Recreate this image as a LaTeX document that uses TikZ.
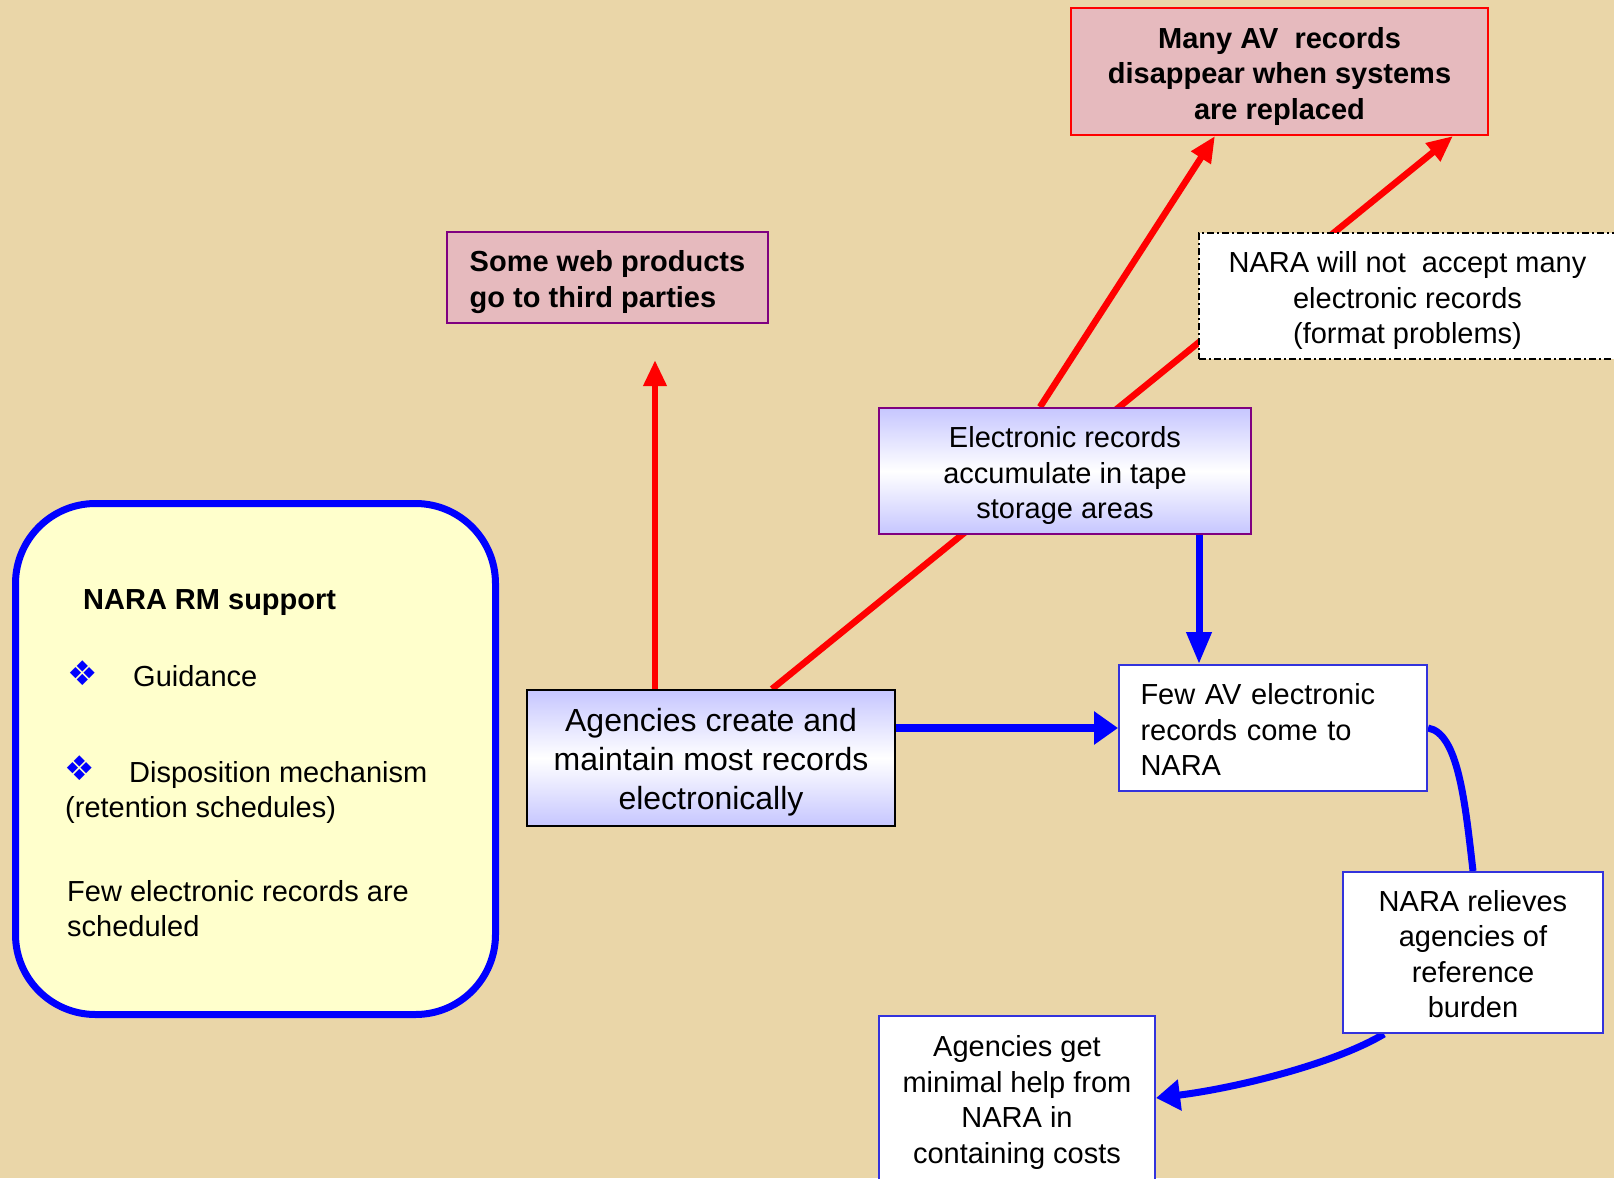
\documentclass[tikz,border=0pt]{standalone}
\usepackage{fontspec}
\setmainfont{Liberation Sans}
\newfontfamily\symfont{DejaVu Sans}
\usetikzlibrary{arrows.meta}
\definecolor{bgtan}{RGB}{234,214,168}
\definecolor{pinkfill}{RGB}{230,186,190}
\definecolor{lav}{RGB}{198,198,255}
\definecolor{boxblue}{RGB}{51,51,220}
\definecolor{purp}{RGB}{128,0,128}
\definecolor{paleyellow}{RGB}{255,255,204}
\definecolor{arrred}{RGB}{255,0,0}
\definecolor{arrblue}{RGB}{0,0,255}
\pgfdeclarelayer{back}
\pgfdeclarelayer{lines}
\pgfsetlayers{back,lines,main}
\begin{document}
\begin{tikzpicture}[x=1pt,y=-1pt,
  txt/.style={font=\fontsize{29}{35.5}\selectfont, align=center, inner sep=0pt, text depth=7.7pt},
  twol/.style={text height=67.3pt},
  threel/.style={text height=102.8pt},
  fourl/.style={text height=138.3pt},
  redbox/.style={txt, draw=arrred, line width=2pt, fill=pinkfill},
  lavbox/.style={txt, line width=2pt, top color=lav, bottom color=lav, middle color=white},
  whitebox/.style={txt, draw=boxblue, line width=2pt, fill=white},
  redarrow/.style={draw=arrred, line width=6.5pt, -{Triangle[length=26pt,width=22pt]}},
  bluearrow/.style={draw=arrblue, line width=8pt, -{Triangle[length=24pt,width=32pt]}},
  bluecurve/.style={draw=arrblue, line width=7pt},
  lbtext/.style={font=\fontsize{29}{35}\selectfont, anchor=base west, inner sep=0pt},
  bullet/.style={font=\symfont\fontsize{34}{38}\selectfont, text=arrblue, inner sep=0pt}
]
\useasboundingbox (0,0) rectangle (1614,1178);

% boxes
\node[redbox, threel, minimum width=417, minimum height=127] (mav) at (1279.5,71.5)
  {\bfseries Many AV\ \ records\\\bfseries disappear when systems\\\bfseries are replaced};
\node[redbox, twol, draw=purp, align=left, minimum width=321, minimum height=91] (web) at (607.5,277.5)
  {\bfseries Some web products\\\bfseries go to third parties};
\node[txt, threel, draw=black, fill=white, line width=1.5pt, dash pattern=on 7pt off 3pt on 2pt off 3pt,
  minimum width=417, minimum height=126] (nwn) at (1407.5,296)
  {NARA will not\ \ accept many\\electronic records\\(format problems)};
\node[lavbox, threel, draw=purp, minimum width=372, minimum height=126] (el) at (1065,471)
  {Electronic records\\accumulate in tape\\storage areas};
\node[lavbox, draw=black, font=\fontsize{32}{39}\selectfont, text height=111pt, text depth=8.4pt,
  minimum width=368, minimum height=136] (ag) at (711,758)
  {Agencies create and\\maintain most records\\electronically};
\node[whitebox, align=left, text width=265pt, inner xsep=21.5pt, text height=31.8pt, text depth=78.7pt,
  minimum height=126] (fa) at (1273,728)
  {Few AV electronic\\records come to\\NARA};
\node[whitebox, fourl, minimum width=260, minimum height=161] (nr) at (1473,952.5)
  {NARA relieves\\agencies of\\reference\\burden};
\node[whitebox, fourl, minimum width=276, minimum height=164] (agg) at (1017,1098)
  {Agencies get\\minimal help from\\NARA in\\containing costs};

% left panel
\node[draw=arrblue, line width=7pt, fill=paleyellow, rounded corners=80pt,
  minimum width=480, minimum height=511] (lb) at (255.5,759) {};
\node[lbtext] (lbt1) at (83,609.5) {\bfseries NARA RM support};
\node[bullet] (b1) at (83,673) {❖};
\node[lbtext] (lbt2) at (133,686.5) {Guidance};
\node[bullet] (b2) at (80,768) {❖};
\node[lbtext] (lbt3) at (129,782) {Disposition mechanism};
\node[lbtext] (lbt4) at (65,817) {(retention schedules)};
\node[lbtext] (lbt5) at (67,901) {Few electronic records are};
\node[lbtext] (lbt6) at (67,936) {scheduled};

\coordinate (webtip) at (655,360);
\coordinate (eldown) at ([xshift=134pt]el.south);

\begin{pgfonlayer}{back}
\fill[bgtan] (0,0) rectangle (1614,1178);
\end{pgfonlayer}

\begin{pgfonlayer}{lines}
\draw[redarrow] ([xshift=-56pt]ag.north) -- (webtip);
\draw[redarrow] ([xshift=61pt]ag.north) -- ([xshift=173.5pt]mav.south);
\draw[redarrow] ([xshift=-25pt]el.north) -- ([xshift=-64.5pt]mav.south);
\draw[bluearrow] (ag.east |- fa.west) -- (fa.west);
\draw[draw=arrblue, line width=7pt, -{Triangle[length=32pt,width=24pt]}] (eldown) -- (eldown |- fa.north);
\draw[bluecurve] (fa.east) .. controls +(30,5) and +(-8,-70) .. (nr.north);
\draw[bluecurve, -{Triangle[length=24pt,width=30pt]}] ([xshift=-89pt]nr.south) .. controls +(-50,30) and +(80,-10) .. (agg.east);
\end{pgfonlayer}
\end{tikzpicture}
\end{document}
